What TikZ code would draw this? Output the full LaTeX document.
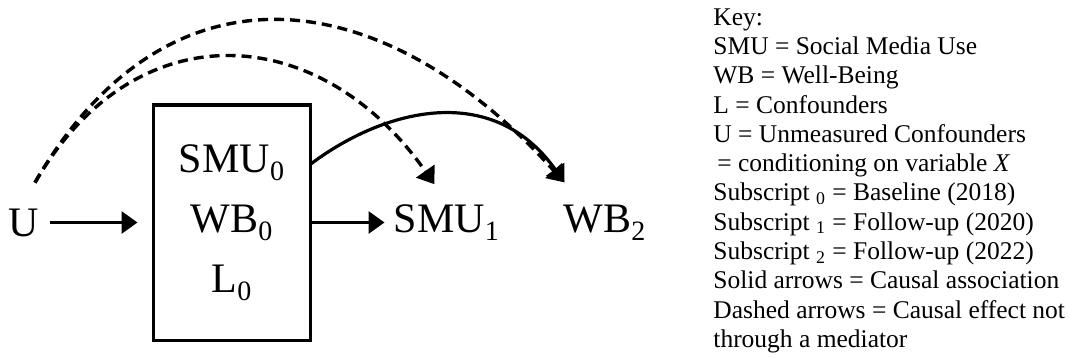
\documentclass[tikz,border=0pt]{standalone}
\usepackage{fontspec}
\setmainfont{Liberation Serif}
\usetikzlibrary{positioning, arrows.meta}
\newcommand{\wavesub}[1]{\raisebox{-4pt}{\fontsize{14}{14}\selectfont #1}}

\begin{document}
\begin{tikzpicture}[
    x=0.5pt, y=-0.5pt,
    var/.style={inner sep=0pt, font=\fontsize{21}{30}\selectfont},
    timebox/.style={draw, line width=1.5pt, minimum width=78.5pt, minimum height=117.5pt, inner sep=0pt, align=center, font=\fontsize{21}{30}\selectfont},
    arr/.style={-{Triangle[length=8pt, width=11pt]}, line width=1.6pt},
    darr/.style={arr, dash pattern=on 5pt off 3pt, line width=1.7pt},
    keytext/.style={inner sep=0pt, anchor=north west, align=left, font=\fontsize{12.75}{14.65}\selectfont}
]
\useasboundingbox (0,0) rectangle (1069,358);

% Baseline box
\node[timebox] (base) at (231.5,222.5) {SMU\wavesub{0}\\WB\wavesub{0}\\L\wavesub{0}};

% Variables
\node[var, left=56pt of base] (u) {U};
\node[var, right=41pt of base] (smu1) {SMU\wavesub{1}};
\node[var, right=32pt of smu1] (wb2) {WB\wavesub{2}};

% Solid arrows
\draw[arr, shorten <=5pt, shorten >=7pt] (u) -- (base);
\draw[arr, shorten >=4.5pt] (base) -- (base -| smu1.west);
\draw[arr] ([yshift=29.5pt]base.east) .. controls +(72,-54) and +(-72,-102) .. ([xshift=0.5pt, yshift=11pt]wb2.north west);

% Dashed arrows from U
\coordinate (ustart) at ([xshift=5.5pt, yshift=12.75pt]u.north);
\draw[darr] (ustart) .. controls +(100,-173) and +(-115,-164) .. ([xshift=-6pt, yshift=10pt]smu1.north);
\draw[darr] (ustart) .. controls +(134,-232) and +(-179,-199) .. ([xshift=0.5pt, yshift=11pt]wb2.north west);

% Key
\node[keytext] (key) at (713,8) {Key:\\
SMU = Social Media Use\\
WB = Well-Being\\
L = Confounders\\
U = Unmeasured Confounders\\
\hspace*{2pt}= conditioning on variable \textit{X}\\
Subscript \textsubscript{0} = Baseline (2018)\\
Subscript \textsubscript{1} = Follow-up (2020)\\
Subscript \textsubscript{2} = Follow-up (2022)\\
Solid arrows = Causal association\\
Dashed arrows = Causal effect not\\
through a mediator};

\end{tikzpicture}
\end{document}
